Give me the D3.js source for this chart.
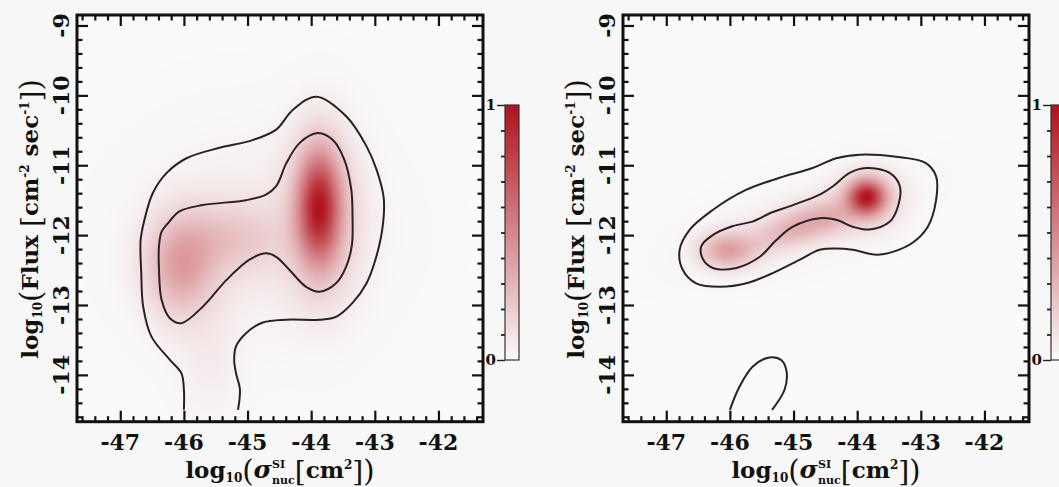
<!DOCTYPE html>
<html>
<head>
<meta charset="utf-8">
<script src="https://cdn.jsdelivr.net/npm/d3@7"></script>
<style>
body{margin:0;background:#f7f7f7;}
svg text{font-family:"DejaVu Serif",serif;fill:#111;white-space:pre;}
</style>
</head>
<body>
<svg id="chart" width="1059" height="487"></svg>
<script>
// axes
var xDomain=[-47.68,-41.30];
var yDomain=[-14.67,-8.85];
var xTicks=[-47,-46,-45,-44,-43,-42];
var yTicks=[-14,-13,-12,-11,-10,-9];
var cbTicks=[0,1];

// density blobs: [x, y, sx, sy, weight, rho]
var leftBlobs=[
	[-43.88,-11.60,0.23,0.55,1.00,0],
	[-43.82,-11.70,0.40,0.85,0.28,0],
	[-46.05,-12.45,0.38,0.50,0.46,0],
	[-45.25,-12.05,0.55,0.35,0.22,0],
	[-44.90,-12.00,1.30,1.00,0.09,0],
	[-45.60,-13.90,0.35,0.55,0.07,0]
];
var rightBlobs=[
	[-43.85,-11.45,0.20,0.17,1.00,0],
	[-43.80,-11.50,0.35,0.30,0.22,0],
	[-46.05,-12.22,0.30,0.18,0.44,0],
	[-45.10,-11.95,0.45,0.20,0.25,0.5],
	[-44.50,-11.75,0.40,0.20,0.25,0.3],
	[-44.90,-11.80,1.10,0.45,0.09,0.6]
];

// contour lines [x, y]
var leftOuter=[[-46.00,-14.50],[-46.00,-14.215],[-46.04,-13.976],[-46.22,-13.785],[-46.51,-13.452],[-46.64,-13.022],
	[-46.67,-12.54],[-46.68,-12.07],[-46.62,-11.78],[-46.49,-11.40],[-46.27,-11.11],[-45.96,-10.90],[-45.44,-10.75],
	[-44.92,-10.64],[-44.55,-10.49],[-44.29,-10.21],[-43.92,-10.02],[-43.45,-10.30],[-43.13,-10.73],[-42.97,-11.07],
	[-42.86,-11.47],[-42.88,-11.90],[-42.99,-12.35],[-43.13,-12.69],[-43.35,-12.97],[-43.61,-13.17],[-43.87,-13.21],
	[-44.39,-13.21],[-44.76,-13.25],[-45.02,-13.40],[-45.18,-13.59],[-45.21,-13.79],[-45.18,-13.98],[-45.12,-14.21],
	[-45.15,-14.50]];
var leftInner=[[-43.895,-10.54],[-43.66,-10.64],[-43.48,-10.92],[-43.37,-11.35],[-43.35,-11.78],[-43.36,-12.14],
	[-43.45,-12.45],[-43.61,-12.69],[-43.87,-12.81],[-44.08,-12.74],[-44.34,-12.50],[-44.55,-12.31],[-44.71,-12.26],
	[-44.97,-12.35],[-45.33,-12.64],[-45.70,-13.02],[-46.04,-13.26],[-46.22,-13.19],[-46.35,-12.93],[-46.39,-12.54],
	[-46.39,-12.14],[-46.35,-11.95],[-46.25,-11.83],[-46.07,-11.66],[-45.70,-11.57],[-45.02,-11.50],[-44.71,-11.42],
	[-44.55,-11.30],[-44.39,-10.97],[-44.18,-10.68]];
var rightOuter=[[-43.96,-10.85],[-43.39,-10.88],[-42.92,-10.97],[-42.76,-11.16],[-42.76,-11.50],[-42.89,-11.88],
	[-43.13,-12.11],[-43.44,-12.24],[-43.70,-12.28],[-44.07,-12.21],[-44.33,-12.19],[-44.59,-12.21],[-44.90,-12.35],
	[-45.32,-12.54],[-45.74,-12.69],[-46.16,-12.74],[-46.53,-12.69],[-46.74,-12.50],[-46.79,-12.21],[-46.63,-11.92],
	[-46.27,-11.64],[-45.74,-11.35],[-45.22,-11.18],[-44.70,-11.04],[-44.33,-10.90]];
var rightInner=[[-43.86,-11.04],[-43.49,-11.11],[-43.33,-11.30],[-43.36,-11.59],[-43.49,-11.81],[-43.81,-11.92],
	[-44.07,-11.88],[-44.33,-11.78],[-44.59,-11.76],[-45.01,-11.88],[-45.27,-12.07],[-45.53,-12.31],[-45.90,-12.47],
	[-46.27,-12.47],[-46.42,-12.35],[-46.45,-12.16],[-46.27,-12.00],[-45.95,-11.87],[-45.66,-11.81],[-45.53,-11.76],
	[-45.38,-11.69],[-45.01,-11.57],[-44.59,-11.42],[-44.38,-11.30],[-44.12,-11.11]];
var rightTail=[[-46.00,-14.50],[-45.85,-14.17],[-45.64,-13.88],[-45.38,-13.75],[-45.19,-13.79],[-45.11,-13.95],
	[-45.14,-14.21],[-45.32,-14.48],[-45.34,-14.50]];

var svg=d3.select('#chart');
var color=d3.scaleSequential(d3.interpolateRgb('#fafafa','#b0121c')).domain([0,1]);

function density(blobs,x,y){
	var s=0;
	blobs.forEach(function(b){
		var dx=(x-b[0])/b[2], dy=(y-b[1])/b[3], r=b[5];
		s+=b[4]*Math.exp(-0.5*(dx*dx-2*r*dx*dy+dy*dy)/(1-r*r));
	});
	return s;
}

// write a little formula piece by piece, returns its width
function mathText(g,parts){
	var cx=0;
	parts.forEach(function(p){
		var t=g.append('text').attr('x',cx).attr('y',p.dy||0).text(p.t).style('font-size',p.s+'px')
			.style('font-weight',p.w||700).style('font-style',p.i?'italic':'normal');
		var w=t.node().getComputedTextLength();
		if(!p.stay) cx+=w;
	});
	return cx;
}

var xParts=[
	{t:'log',s:23},{t:'10',s:12,dy:4},{t:'(',s:29,w:400,dy:3},{t:'σ',s:25,i:true},
	{t:'SI',s:11,dy:-10,stay:true},{t:'nuc',s:11,dy:6},{t:'[',s:28,w:400,dy:3},{t:'cm',s:23},{t:'2',s:12,dy:-9},
	{t:']',s:28,w:400,dy:3},{t:')',s:29,w:400,dy:3}
];
var yParts=[
	{t:'log',s:23},{t:'10',s:12,dy:4},{t:'(',s:29,w:400,dy:3},{t:'Flux',s:23},{t:'\u00a0',s:23},{t:'[',s:28,w:400,dy:3},
	{t:'cm',s:23},{t:'-2',s:12,dy:-9},{t:'\u00a0sec',s:23},{t:'-1',s:12,dy:-9},{t:']',s:28,w:400,dy:3},{t:')',s:29,w:400,dy:3}
];

function panel(ox,blobs,closed,open){
	var g=svg.append('g').attr('transform','translate('+ox+',0)');
	var x=d3.scaleLinear().domain(xDomain).range([77,483]);
	var y=d3.scaleLinear().domain(yDomain).range([421.7,15]);

	// heat map
	var nx=220, ny=220;
	var cv=document.createElement('canvas'); cv.width=nx; cv.height=ny;
	var ctx=cv.getContext('2d'), img=ctx.createImageData(nx,ny);
	var vals=[], mx=0;
	for(var j=0;j<ny;j++){
		for(var i=0;i<nx;i++){
			var xv=xDomain[0]+(i+0.5)*(xDomain[1]-xDomain[0])/nx;
			var yv=yDomain[1]-(j+0.5)*(yDomain[1]-yDomain[0])/ny;
			var v=density(blobs,xv,yv); vals.push(v); if(v>mx) mx=v;
		}
	}
	vals.forEach(function(v,k){
		var c=d3.rgb(color(v/mx));
		img.data[k*4]=c.r; img.data[k*4+1]=c.g; img.data[k*4+2]=c.b; img.data[k*4+3]=255;
	});
	ctx.putImageData(img,0,0);
	g.append('image').attr('href',cv.toDataURL())
		.attr('x',x(xDomain[0])).attr('y',y(yDomain[1]))
		.attr('width',x(xDomain[1])-x(xDomain[0])).attr('height',y(yDomain[0])-y(yDomain[1]))
		.attr('preserveAspectRatio','none');

	// contours
	var line=d3.line().x(function(d){return x(d[0]);}).y(function(d){return y(d[1]);});
	closed.forEach(function(c){
		g.append('path').attr('d',line.curve(d3.curveCatmullRomClosed.alpha(0.5))(c))
			.attr('fill','none').attr('stroke','#2a2222').attr('stroke-width',2);
	});
	open.forEach(function(c){
		g.append('path').attr('d',line.curve(d3.curveCatmullRom.alpha(0.5))(c))
			.attr('fill','none').attr('stroke','#2a2222').attr('stroke-width',2);
	});

	// ticks on all four sides, pointing inward
	var minorX=d3.range(-47.6,-41.3,0.2).filter(function(v){return Math.abs(v-Math.round(v))>0.05;});
	var minorY=d3.range(-14.6,-8.85,0.2).filter(function(v){return Math.abs(v-Math.round(v))>0.05;});
	function tickAxis(axis,vals,size,tr){
		var a=g.append('g').attr('transform',tr).call(axis.tickValues(vals).tickSize(-size).tickFormat(''));
		a.select('.domain').remove();
		a.selectAll('line').attr('stroke','#111').attr('stroke-width',2.2);
	}
	tickAxis(d3.axisBottom(x),xTicks,11,'translate(0,421.7)');
	tickAxis(d3.axisBottom(x),minorX,5.5,'translate(0,421.7)');
	tickAxis(d3.axisTop(x),xTicks,11,'translate(0,15)');
	tickAxis(d3.axisTop(x),minorX,5.5,'translate(0,15)');
	tickAxis(d3.axisLeft(y),yTicks,11,'translate(77,0)');
	tickAxis(d3.axisLeft(y),minorY,5.5,'translate(77,0)');
	tickAxis(d3.axisRight(y),yTicks,11,'translate(483,0)');
	tickAxis(d3.axisRight(y),minorY,5.5,'translate(483,0)');

	g.append('rect').attr('x',77).attr('y',15).attr('width',406).attr('height',406.7)
		.attr('fill','none').attr('stroke','#111').attr('stroke-width',3);

	// tick labels
	g.selectAll('.xl').data(xTicks).enter().append('text').attr('class','xl')
		.attr('x',function(d){return x(d);}).attr('y',450).attr('text-anchor','middle')
		.style('font-size','22px').style('font-weight',700).text(function(d){return d;});
	g.selectAll('.yl').data(yTicks).enter().append('text').attr('class','yl')
		.attr('transform',function(d){return 'translate(69,'+y(d)+') rotate(-90)';})
		.attr('text-anchor','middle').style('font-size','22px').style('font-weight',700)
		.text(function(d){return d;});

	// axis titles
	var xt=g.append('g');
	var w=mathText(xt,xParts);
	xt.attr('transform','translate('+(280-w/2)+',478)');
	var yt=g.append('g');
	var wy=mathText(yt,yParts);
	yt.attr('transform','translate(38,219) rotate(-90) translate('+(-wy/2)+',0)');

	// colour bar
	var cb=d3.scaleLinear().domain([0,1]).range([360,105]);
	var gid='grad'+ox;
	var grad=svg.append('defs').append('linearGradient').attr('id',gid)
		.attr('x1',0).attr('y1',1).attr('x2',0).attr('y2',0);
	d3.range(0,1.001,0.1).forEach(function(t){
		grad.append('stop').attr('offset',t).attr('stop-color',color(t));
	});
	g.append('rect').attr('x',505).attr('y',cb(1)).attr('width',14).attr('height',cb(0)-cb(1))
		.attr('fill','url(#'+gid+')').attr('stroke','#333').attr('stroke-width',1.2);
	var cbA=g.append('g').attr('transform','translate(505,0)')
		.call(d3.axisLeft(cb).tickValues(d3.range(0.1,0.95,0.1)).tickSize(4).tickFormat(''));
	cbA.select('.domain').remove();
	cbA.selectAll('line').attr('stroke','#222').attr('stroke-width',1.8);
	var cbM=g.append('g').attr('transform','translate(505,0)')
		.call(d3.axisLeft(cb).tickValues(cbTicks).tickSize(8).tickPadding(1).tickFormat(d3.format('d')));
	cbM.select('.domain').remove();
	cbM.selectAll('line').attr('stroke','#222').attr('stroke-width',1.4);
	cbM.selectAll('text').style('font-size','15px').style('font-weight',700).attr('fill','#111');
}

panel(0,leftBlobs,[leftInner],[leftOuter]);
panel(546,rightBlobs,[rightOuter,rightInner],[rightTail]);
</script>
</body>
</html>
